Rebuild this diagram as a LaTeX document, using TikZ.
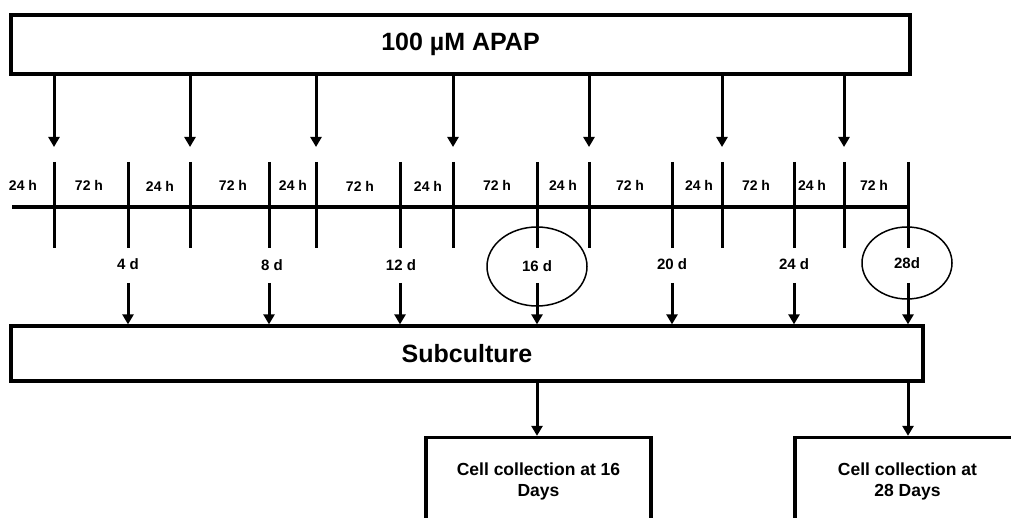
\documentclass[tikz,border=0pt]{standalone}
\usepackage{fontspec}
\setmainfont{Liberation Sans}
\usetikzlibrary{arrows.meta,shapes.geometric}

\begin{document}
\begin{tikzpicture}[x=1pt,y=-1pt,
  box/.style={draw,line width=3.3pt,inner sep=0pt,font=\bfseries\fontsize{25}{29}\selectfont},
  cellbox/.style={draw,line width=3.3pt,minimum width=225pt,minimum height=88pt,
    align=center,font=\bfseries\fontsize{17.5}{21}\selectfont},
  hours/.style={font=\bfseries\fontsize{14}{16}\selectfont},
  days/.style={font=\bfseries\fontsize{15}{18}\selectfont},
  ring/.style={draw,ellipse,line width=1.5pt,inner sep=0pt},
  tickline/.style={line width=3pt},
  arr/.style={line width=3pt,-{Triangle[length=10pt,width=11pt]}}]
  \useasboundingbox (0,0) rectangle (1011,518);
  \clip (0,0) rectangle (1011,518);

  % boxes
  \node[box,minimum width=899pt,minimum height=59pt] (apap) at (460.5,44.5) {100 µM APAP};
  \node[box,minimum width=912pt,minimum height=55pt] (sub) at (467,353.5) {Subculture};
  \node[cellbox] (c16) at (538.5,481.5) {Cell collection at 16\\Days};
  \node[cellbox] (c28) at (907.5,481.5) {Cell collection at\\28 Days};

  % time line
  \coordinate (t0) at (12,207);
  \coordinate (t1) at (910,207);
  \draw[line width=3.3pt] (t0) -- (t1);

  % treatment ticks and day ticks
  \foreach \x [count=\i] in {54,190,316,453,589,722,844}
    \coordinate (a\i) at (\x,207);
  \foreach \x [count=\i] in {128,269,400,537,672,794,908}
    \coordinate (d\i) at (\x,207);
  \foreach \i in {1,...,7} {
    \draw[tickline] ([yshift=45pt]a\i) -- ([yshift=-41pt]a\i);
    \draw[tickline] ([yshift=45pt]d\i) -- ([yshift=-41pt]d\i);
    \coordinate (p\i) at ([yshift=60pt]a\i);
    \draw[arr] (apap.south -| a\i) -- (p\i);
  }

  % hours
  \node[hours] (h1) at (23,185) {24 h};
  \node[hours] (h2) at (89,185) {72 h};
  \node[hours] (h3) at (160,186) {24 h};
  \node[hours] (h4) at (233,185) {72 h};
  \node[hours] (h5) at (293,185) {24 h};
  \node[hours] (h6) at (360,186) {72 h};
  \node[hours] (h7) at (428,186) {24 h};
  \node[hours] (h8) at (497,185) {72 h};
  \node[hours] (h9) at (563,185) {24 h};
  \node[hours] (h10) at (630,185) {72 h};
  \node[hours] (h11) at (699,185) {24 h};
  \node[hours] (h12) at (756,185) {72 h};
  \node[hours] (h13) at (812,185) {24 h};
  \node[hours] (h14) at (874,185) {72 h};

  % days
  \node[days] (n4) at (128,264) {4 d};
  \node[days] (n8) at (272,265) {8 d};
  \node[days] (n12) at (401,265) {12 d};
  \node[days,ring,minimum width=100pt,minimum height=79pt] (n16) at (537,266.5) {16 d};
  \node[days] (n20) at (672,264) {20 d};
  \node[days] (n24) at (794,264) {24 d};
  \node[days,ring,minimum width=90pt,minimum height=72pt] (n28) at (907,263) {28d};

  \foreach \i in {1,...,7} {
    \coordinate (q\i) at ([yshift=-76pt]d\i);
    \draw[arr] (q\i) -- (sub.north -| d\i);
  }

  % collection
  \draw[arr] (sub.south -| d4) -- (c16.north -| d4);
  \draw[arr] (sub.south -| d7) -- (c28.north -| d7);
\end{tikzpicture}
\end{document}
